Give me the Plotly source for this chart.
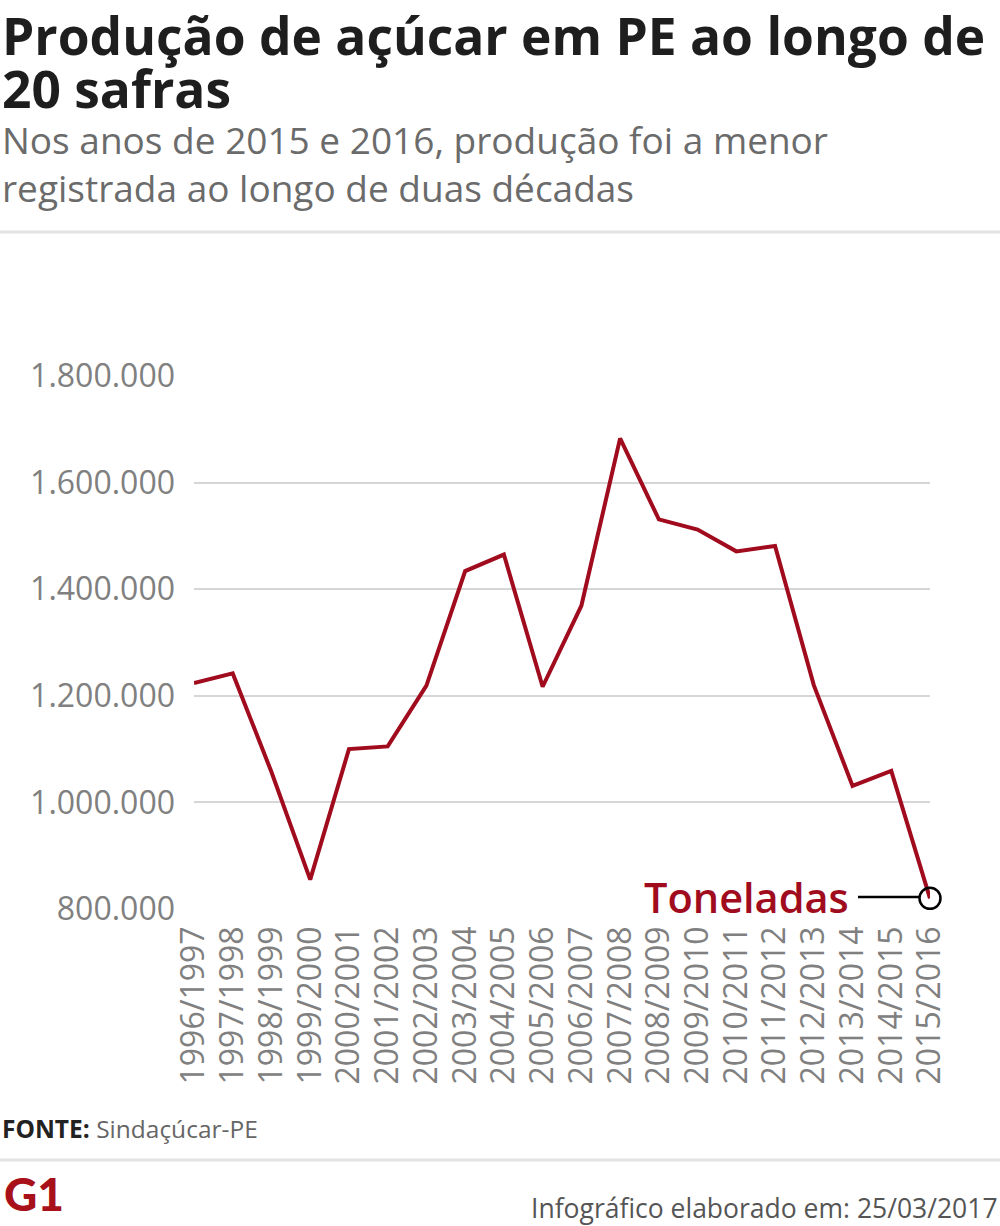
import plotly.graph_objects as go

safras = ["1996/1997", "1997/1998", "1998/1999", "1999/2000", "2000/2001",
          "2001/2002", "2002/2003", "2003/2004", "2004/2005", "2005/2006",
          "2006/2007", "2007/2008", "2008/2009", "2009/2010", "2010/2011",
          "2011/2012", "2012/2013", "2013/2014", "2014/2015", "2015/2016"]
producao = [1224000, 1242000, 1057000, 855000, 1100000,
            1105000, 1219000, 1434000, 1465000, 1217000,
            1369000, 1683000, 1531000, 1512000, 1471000,
            1481000, 1220000, 1031000, 1059000, 820000]
y_ticks = [800000, 1000000, 1200000, 1400000, 1600000, 1800000]

W, H = 1000, 1226
L, R, T, B = 194, 930, 376, 909


def px(x):
    return (x - L) / (R - L)


def py(y):
    return (B - y) / (B - T)


RED = "#a00c1e"
fig = go.Figure()
fig.add_trace(go.Scatter(
    x=safras, y=producao, mode="lines",
    line=dict(color=RED, width=4),
    hoverinfo="skip", cliponaxis=False, showlegend=False))
fig.add_trace(go.Scatter(
    x=[safras[-1]], y=[producao[-1]], mode="markers",
    marker=dict(size=21, color="rgba(0,0,0,0)", line=dict(color="black", width=2.5)),
    hoverinfo="skip", cliponaxis=False, showlegend=False))

annotations = []
shapes = []

# "Toneladas" label with leader line
annotations.append(dict(
    x=px(851), y=py(897), xref="paper", yref="paper", xanchor="right", yanchor="middle",
    text="Toneladas", showarrow=False,
    font=dict(family="Open Sans", size=41.5, weight=600, color=RED)))
shapes.append(dict(type="line", xref="paper", yref="paper",
                   x0=px(858), x1=px(919), y0=py(897), y1=py(897),
                   line=dict(color="black", width=2.5)))

# title / subtitle
annotations.append(dict(
    x=px(0), y=py(35), xref="paper", yref="paper", xanchor="left", yanchor="middle",
    text="<b>Produção de açúcar em PE ao longo de</b>", showarrow=False,
    font=dict(family="Open Sans", size=51.5, color="#1e1e1e")))
annotations.append(dict(
    x=px(0), y=py(88), xref="paper", yref="paper", xanchor="left", yanchor="middle",
    text="<b>20 safras</b>", showarrow=False,
    font=dict(family="Open Sans", size=51.5, color="#1e1e1e")))
annotations.append(dict(
    x=px(0), y=py(163), xref="paper", yref="paper", xanchor="left", yanchor="middle",
    text="Nos anos de 2015 e 2016, produção foi a menor<br>registrada ao longo de duas décadas",
    showarrow=False, align="left",
    font=dict(family="Open Sans", size=37, color="#6b6b6b")))

shapes.append(dict(type="line", xref="paper", yref="paper",
                   x0=px(0), x1=px(W), y0=py(232), y1=py(232),
                   line=dict(color="#e3e3e3", width=3)))
shapes.append(dict(type="line", xref="paper", yref="paper",
                   x0=px(0), x1=px(W), y0=py(1160), y1=py(1160),
                   line=dict(color="#e3e3e3", width=3)))

# footer
annotations.append(dict(
    x=px(0), y=py(1128), xref="paper", yref="paper", xanchor="left", yanchor="middle",
    text="<b>FONTE:</b> <span style='color:#666666'>Sindaçúcar-PE</span>", showarrow=False,
    font=dict(family="Open Sans", size=24.5, color="#222222")))
annotations.append(dict(
    x=px(2), y=py(1193), xref="paper", yref="paper", xanchor="left", yanchor="middle",
    text="G1", showarrow=False,
    font=dict(family="Lato", size=46, weight=900, color="#a8101a")))
annotations.append(dict(
    x=px(W), y=py(1208), xref="paper", yref="paper", xanchor="right", yanchor="middle",
    text="Infográfico elaborado em: 25/03/2017", showarrow=False,
    font=dict(family="Open Sans", size=26.5, color="#555555")))

fig.update_layout(
    width=W, height=H,
    margin=dict(l=L, r=W - R, t=T, b=H - B, pad=0),
    paper_bgcolor="white", plot_bgcolor="white",
    separators=",.",
    annotations=annotations, shapes=shapes,
    xaxis=dict(
        type="category", range=[0, len(safras) - 1],
        showgrid=False, zeroline=False, showline=False, ticks="",
        tickangle=-90, ticklabelstandoff=10,
        tickfont=dict(family="Open Sans", size=32, color="#808080"),
        fixedrange=True),
    yaxis=dict(
        range=[800000, 1800000], tickvals=y_ticks, tickformat=",d",
        showgrid=True, gridcolor="#d6d6d6", gridwidth=2,
        zeroline=False, showline=False, ticks="",
        ticklabelstandoff=18,
        tickfont=dict(family="Open Sans", size=32, color="#808080"),
        fixedrange=True),
)

fig.write_html("out.html")
